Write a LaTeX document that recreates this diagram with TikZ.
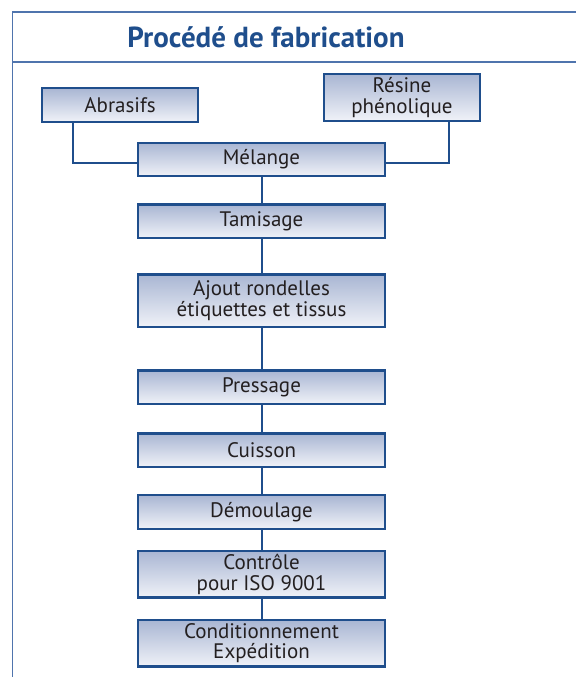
\documentclass[tikz,border=0pt]{standalone}
\usepackage{fontspec}
\setmainfont{PT Sans}
\usepackage{tikz}
\usetikzlibrary{positioning}

\definecolor{frameblue}{HTML}{4F74AD}
\definecolor{boxblue}{HTML}{1F4E8C}
\definecolor{boxtop}{HTML}{A9B6D3}
\definecolor{boxbottom}{HTML}{F0F2F8}
\definecolor{textgrey}{HTML}{231F20}

\begin{document}
\begin{tikzpicture}[x=1pt, y=1pt,
  stage/.style={draw=boxblue, line width=2.4pt, top color=boxtop, bottom color=boxbottom,
    text=textgrey, font=\fontsize{21}{20.5}\selectfont, align=center,
    minimum width=247pt, minimum height=33.5pt, inner sep=0pt},
  input/.style={stage, minimum width=155.6pt},
  link/.style={draw=boxblue, line width=2pt}]
\useasboundingbox (0,0) rectangle (576,-677);

% frame and title
\draw[frameblue, line width=1.5pt] (12.5,-677) -- (12.5,-12) -- (576,-12);
\draw[frameblue, line width=1.5pt] (12.5,-62) -- (576,-62);
\node (title) at (266,-37) [text=boxblue, font=\fontsize{29}{30}\selectfont\bfseries] {Procédé de fabrication};

% inputs
\node (abrasifs) [input] at (120,-105) {Abrasifs};
\node (resine) [input, minimum height=46.6pt] at (402,-97.5) {Résine\\phénolique};

% process steps
\node (melange) [stage] at (261.5,-159.5) {Mélange};
\node (tamisage) [stage, below=26pt of melange] {Tamisage};
\node (ajout) [stage, minimum height=52.5pt, below=34pt of tamisage] {Ajout rondelles\\étiquettes et tissus};
\node (pressage) [stage, below=41pt of ajout] {Pressage};
\node (cuisson) [stage, below=27pt of pressage] {Cuisson};
\node (demoulage) [stage, below=26pt of cuisson] {Démoulage};
\node (controle) [stage, minimum height=46.5pt, below=20pt of demoulage] {Contrôle\\pour ISO 9001};
\node (conditionnement) [stage, minimum height=46.5pt, below=20pt of controle] {Conditionnement\\Expédition};

\draw[link] ([xshift=32pt]abrasifs.south west) |- ([yshift=-3pt]melange.west);
\draw[link] ([xshift=-32pt]resine.south east) |- ([yshift=-3pt]melange.east);

\draw[link] (melange) -- (tamisage);
\draw[link] (tamisage) -- (ajout);
\draw[link] (ajout) -- (pressage);
\draw[link] (pressage) -- (cuisson);
\draw[link] (cuisson) -- (demoulage);
\draw[link] (demoulage) -- (controle);
\draw[link] (controle) -- (conditionnement);
\end{tikzpicture}
\end{document}
